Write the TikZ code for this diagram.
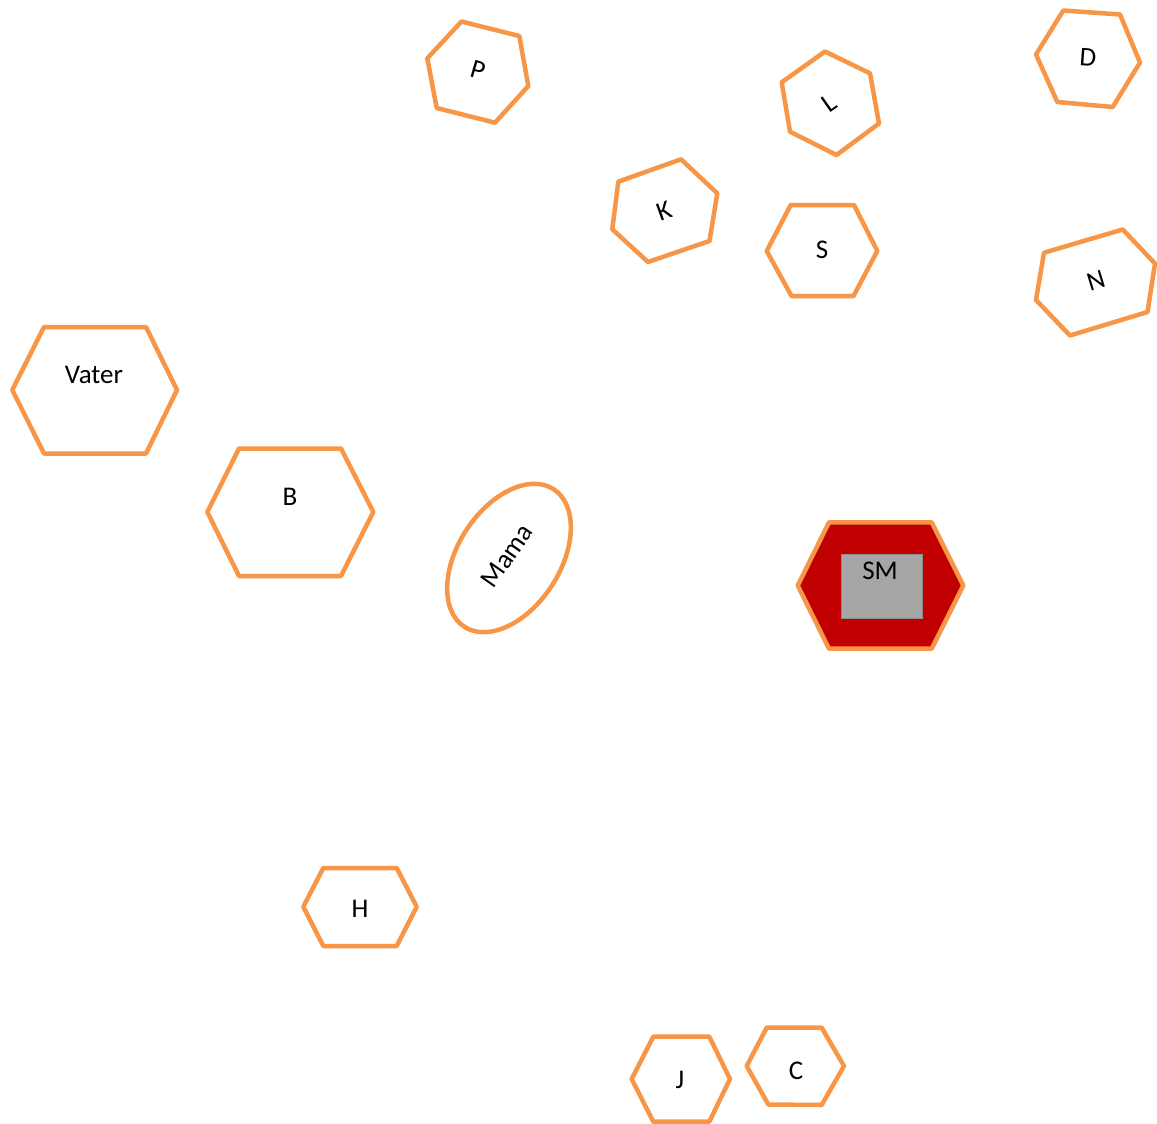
\documentclass[tikz,border=0pt]{standalone}
\usepackage{fontspec}
\setmainfont{Carlito}
\begin{document}
\begin{tikzpicture}[x=1pt,y=-1pt,
  hexline/.style={draw=hexorange,line width=4.5pt,line join=round,fill=white},
  lbl/.style={font=\fontsize{27}{32}\selectfont,inner sep=0pt,text=black}]
\definecolor{hexorange}{HTML}{F79646}
\definecolor{smred}{HTML}{C00000}
\definecolor{smgray}{HTML}{A6A6A6}
\useasboundingbox (0,0) rectangle (1157,1124);
\fill[white] (0,0) rectangle (1157,1124);
% P
\draw[hexline] (461.5,21.5) -- (519.3,36) -- (528.3,86) -- (495,122.7) -- (436.7,108) -- (427.3,58.3) -- cycle;
\node[lbl,rotate=-16] (p) at (478,70) {P};
% L
\draw[hexline] (825,51.5) -- (870,73.3) -- (879,123.5) -- (836.5,155) -- (790,131.7) -- (781.7,82.3) -- cycle;
\node[lbl,rotate=35] (l) at (829,103) {L};
% D
\draw[hexline] (1063.3,10.5) -- (1120,14.5) -- (1140,62.5) -- (1112.7,107) -- (1057.3,102) -- (1036,54.5) -- cycle;
\node[lbl,rotate=-4] (d) at (1088,57) {D};
% K
\draw[hexline] (681,159.3) -- (717.3,193.3) -- (709.5,241) -- (648,262) -- (612.3,229.3) -- (618.3,181.7) -- cycle;
\node[lbl,rotate=20] (k) at (664,211) {K};
% S
\draw[hexline] (790.7,205) -- (854,205) -- (877.3,251) -- (853.5,296) -- (791.5,296) -- (766.7,251) -- cycle;
\node[lbl] (s) at (822,250) {S};
% N
\draw[hexline] (1122.7,229.5) -- (1155,263.5) -- (1147.5,312) -- (1070,335.5) -- (1036,300) -- (1044,252.7) -- cycle;
\node[lbl,rotate=17] (n) at (1096,281) {N};
% Vater
\draw[hexline] (44,327) -- (146,327) -- (177,390) -- (146,453.5) -- (44,453.5) -- (12.3,390) -- cycle;
\node[lbl] (vater) at (94,375) {Vater};
% B
\draw[hexline] (239,448.5) -- (341,448.5) -- (373.3,512) -- (341,576) -- (239,576) -- (207.3,512) -- cycle;
\node[lbl] (b) at (290,497) {B};
% Mama
\draw[hexline,shift={(509,558)},rotate=57] (0,0) ellipse [x radius=82pt, y radius=51pt];
\node[lbl,rotate=55] (mama) at (507,556) {Mama};
% SM
\draw[hexline,fill=smred] (829,522.3) -- (931.7,522.3) -- (963.3,585.5) -- (931.7,648.7) -- (829,648.7) -- (797.7,585.5) -- cycle;
\draw[fill=smgray,draw=smgray!85!black,line width=0.8pt] (841,554.5) rectangle (922.7,618.8);
\node[lbl] (sm) at (880,571) {SM};
% H
\draw[hexline] (323.3,868) -- (396.7,868) -- (416.7,906.7) -- (396.7,946) -- (323.3,946) -- (303.3,906.7) -- cycle;
\node[lbl] (h) at (360,909) {H};
% J
\draw[hexline] (653.3,1036.7) -- (709.3,1036.7) -- (730,1079) -- (709.3,1121.7) -- (653.3,1121.7) -- (631.7,1079) -- cycle;
\node[lbl] (j) at (680,1080) {J};
% C
\draw[hexline] (766.7,1027.7) -- (821.7,1027.7) -- (844,1066) -- (821.7,1105) -- (768.3,1104.5) -- (746.7,1066) -- cycle;
\node[lbl] (c) at (796,1071) {C};
\end{tikzpicture}
\end{document}
